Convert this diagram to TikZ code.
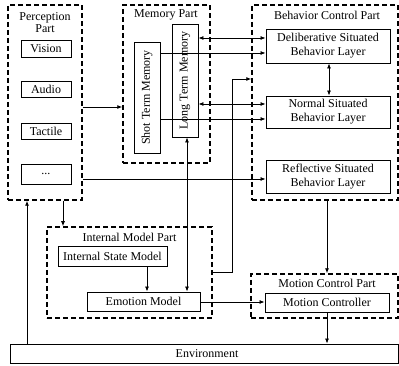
\documentclass[tikz,border=0pt]{standalone}
\usepackage{fontspec}
\setmainfont{Liberation Serif}
\usetikzlibrary{arrows.meta}
\begin{document}
\begin{tikzpicture}[x=1pt,y=-1pt,
  txt/.style={font=\fontsize{12}{14}\selectfont, align=center, inner sep=0pt},
  solidbox/.style={draw, line width=0.9pt, inner sep=0pt, font=\fontsize{12}{14}\selectfont, align=center},
  partbox/.style={draw, line width=1.5pt, dash pattern=on 5pt off 3pt, inner sep=0pt},
  conn/.style={line width=0.8pt},
  arr/.style={conn, -{Latex[length=5pt,width=4pt]}},
  darr/.style={conn, {Latex[length=5pt,width=4pt]}-{Latex[length=5pt,width=4pt]}},
]
\useasboundingbox (0,0) rectangle (399,366);

% Part boxes
\node[partbox, minimum width=74pt, minimum height=195pt] (perc) at (45,102.5) {};
\node[partbox, minimum width=87pt, minimum height=158pt] (mem) at (166.5,84) {};
\node[partbox, minimum width=146pt, minimum height=195pt] (beh) at (325,102.5) {};
\node[partbox, minimum width=165pt, minimum height=91pt] (intp) at (129.5,272.5) {};
\node[partbox, minimum width=147pt, minimum height=44pt] (motp) at (324.5,296) {};

% Part titles
\node[txt, font=\fontsize{12}{12}\selectfont] (perct) at (45,23) {Perception\\Part};
\node[txt] (memt) at (166,15) {Memory Part};
\node[txt] (beht) at (327,15) {Behavior Control Part};
\node[txt] (intpt) at (129.5,237) {Internal Model Part};
\node[txt] (motpt) at (327,283) {Motion Control Part};

% Perception boxes
\node[solidbox, minimum width=50pt, minimum height=17pt] (vision) at (46,48.5) {Vision};
\node[solidbox, minimum width=50pt, minimum height=16pt] (audio) at (46,89.5) {Audio};
\node[solidbox, minimum width=50pt, minimum height=16pt] (tactile) at (46,131) {Tactile};
\node[solidbox, minimum width=50pt, minimum height=20pt] (dots) at (46,174) {...};

% Memory boxes
\node[solidbox, minimum width=26pt, minimum height=111pt] (stm) at (147,97.5) {};
\node[txt, rotate=90] (stmt) at (stm.center) {Shot Term Memory};
\node[solidbox, minimum width=26pt, minimum height=113pt] (ltm) at (185,80.5) {};
\node[txt, rotate=90] (ltmt) at (ltm.center) {Long Term Memory};

% Behavior layers
\node[solidbox, minimum width=124pt, minimum height=34pt] (delib) at (328,46) {Deliberative Situated\\Behavior Layer};
\node[solidbox, minimum width=124pt, minimum height=32pt] (normal) at (328,112) {Normal Situated\\Behavior Layer};
\node[solidbox, minimum width=124pt, minimum height=33pt] (reflect) at (328,176.5) {Reflective Situated\\Behavior Layer};

% Internal model
\node[solidbox, minimum width=109pt, minimum height=20pt] (ism) at (112.5,256) {Internal State Model};
\node[solidbox, minimum width=113pt, minimum height=19pt] (emo) at (143.5,301.5) {Emotion Model};

% Motion
\node[solidbox, minimum width=124pt, minimum height=19pt] (mc) at (327,302.5) {Motion Controller};

% Environment
\node[solidbox, minimum width=388pt, minimum height=19pt] (env) at (204,353.5) {};
\node[txt] (envt) at (207,354) {Environment};

% Connectors
\coordinate (bend) at (232,79);
\draw[arr] (perc.east |- 0,107) -- (mem.west |- 0,107);
\draw[darr] (ltm.east |- 0,38) -- (delib.west |- 0,38);
\draw[arr] (stm.east |- 0,53) -- (delib.west |- 0,53);
\draw[darr] (ltm.east |- 0,104) -- (normal.west |- 0,104);
\draw[arr] (stm.east |- 0,119) -- (normal.west |- 0,119);
\draw[darr] (delib.south -| 329,0) -- (normal.north -| 329,0);
\draw[arr] (intp.east |- 0,272) -| (bend) -- (beh.west |- bend);
\draw[arr] (perc.east |- 0,179) -- (reflect.west |- 0,179);
\draw[darr] (ltm.south -| 187,0) -- (emo.north -| 187,0);
\draw[arr] (ism.south -| 147,0) -- (emo.north -| 147,0);
\draw[arr] (perc.south -| 63,0) -- (intp.north -| 63,0);
\draw[arr] (env.north -| 27,0) -- (perc.south -| 27,0);
\draw[arr] (emo.east |- 0,302) -- (mc.west |- 0,302);
\draw[arr] (beh.south -| 327,0) -- (motp.north -| 327,0);
\draw[arr] (mc.south -| 327,0) -- (env.north -| 327,0);
\end{tikzpicture}
\end{document}
